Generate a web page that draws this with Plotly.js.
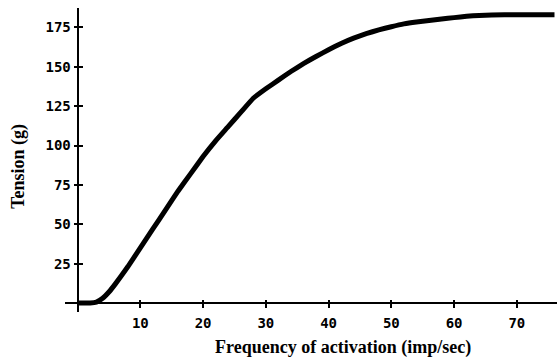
<!DOCTYPE html>
<html>
<head>
<meta charset="utf-8">
<script src="https://cdn.plot.ly/plotly-3.0.1.min.js"></script>
<style>html,body{margin:0;padding:0;background:#fff;}#chart{width:557px;height:359px;}</style>
</head>
<body>
<div id="chart"></div>
<script>
// Data
const frequency = [0, 1, 2, 3, 4, 5, 6, 8, 10, 12, 14, 16, 18, 20, 22, 24, 26, 28, 30, 32, 34, 36, 38, 40, 42, 44, 46, 48, 50, 52, 54, 56, 58, 60, 62, 64, 66, 70, 76];
const tension   = [0, 0, 0, 0.6, 3, 7, 12, 23, 35, 47, 59, 71, 82, 93, 103, 112, 121, 130, 136, 141.5, 147, 152, 156.5, 160.8, 164.8, 168.2, 171, 173.4, 175.4, 177.2, 178.4, 179.3, 180.3, 181.2, 182, 182.6, 182.9, 183, 183];
const xTickVals = [10, 20, 30, 40, 50, 60, 70];
const xTickText = ["10", "20", "30", "40", "50", "60", "70"];
const yTickVals = [25, 50, 75, 100, 125, 150, 175];
const yTickText = ["25", "50", "75", "100", "125", "150", "175"];
const xTitle = "Frequency of activation (imp/sec)";
const yTitle = "Tension (g)";

const xRange = [-2, 76.4];
const yRange = [-5.7, 187.3];
const xPos = (0 - yRange[0]) / (yRange[1] - yRange[0]);
const yPos = (0 - xRange[0]) / (xRange[1] - xRange[0]);

const tickFont = {family: "DejaVu Sans Mono", size: 14, color: "#000", weight: "bold"};
const titleFont = {family: "Liberation Serif", size: 18, color: "#000", weight: "bold"};

const trace = {
  x: frequency, y: tension, type: "scatter", mode: "lines",
  line: {color: "#000", width: 5, shape: "spline", smoothing: 0.3},
  hoverinfo: "skip", showlegend: false
};
// empty trace so the overlay axes (inner half of crossing ticks) get drawn
const tickTrace = {x: [], y: [], xaxis: "x2", yaxis: "y2", type: "scatter", mode: "lines", showlegend: false, hoverinfo: "skip"};

const layout = {
  width: 557, height: 359,
  margin: {l: 65, r: 0, t: 8, b: 47},
  paper_bgcolor: "#fff", plot_bgcolor: "#fff",
  xaxis: {
    range: xRange, anchor: "free", position: xPos,
    showgrid: false, zeroline: false, showline: true, linecolor: "#000", linewidth: 2,
    ticks: "outside", ticklen: 4, tickwidth: 2, tickcolor: "#000",
    tickvals: xTickVals, ticktext: xTickText, tickfont: tickFont, ticklabelstandoff: 3
  },
  yaxis: {
    range: yRange, anchor: "free", position: yPos,
    showgrid: false, zeroline: false, showline: true, linecolor: "#000", linewidth: 2,
    ticks: "outside", ticklen: 3, tickwidth: 2, tickcolor: "#000",
    tickvals: yTickVals, ticktext: yTickText, tickfont: tickFont
  },
  xaxis2: {
    range: xRange, overlaying: "x", anchor: "free", position: xPos,
    showgrid: false, zeroline: false, showline: false,
    ticks: "inside", ticklen: 3, tickwidth: 2, tickcolor: "#000",
    tickvals: xTickVals, showticklabels: false
  },
  yaxis2: {
    range: yRange, overlaying: "y", anchor: "free", position: yPos,
    showgrid: false, zeroline: false, showline: false,
    ticks: "inside", ticklen: 4, tickwidth: 2, tickcolor: "#000",
    tickvals: yTickVals, showticklabels: false
  },
  annotations: [
    {text: xTitle, xref: "paper", yref: "paper", x: 0.565, y: -0.118, xanchor: "center", yanchor: "middle",
     showarrow: false, font: titleFont},
    {text: yTitle, xref: "paper", yref: "paper", x: -0.096, y: 0.48, xanchor: "center", yanchor: "middle",
     textangle: -90, showarrow: false, font: titleFont}
  ]
};

Plotly.newPlot("chart", [trace, tickTrace], layout, {staticPlot: true, displayModeBar: false});
</script>
</body>
</html>
